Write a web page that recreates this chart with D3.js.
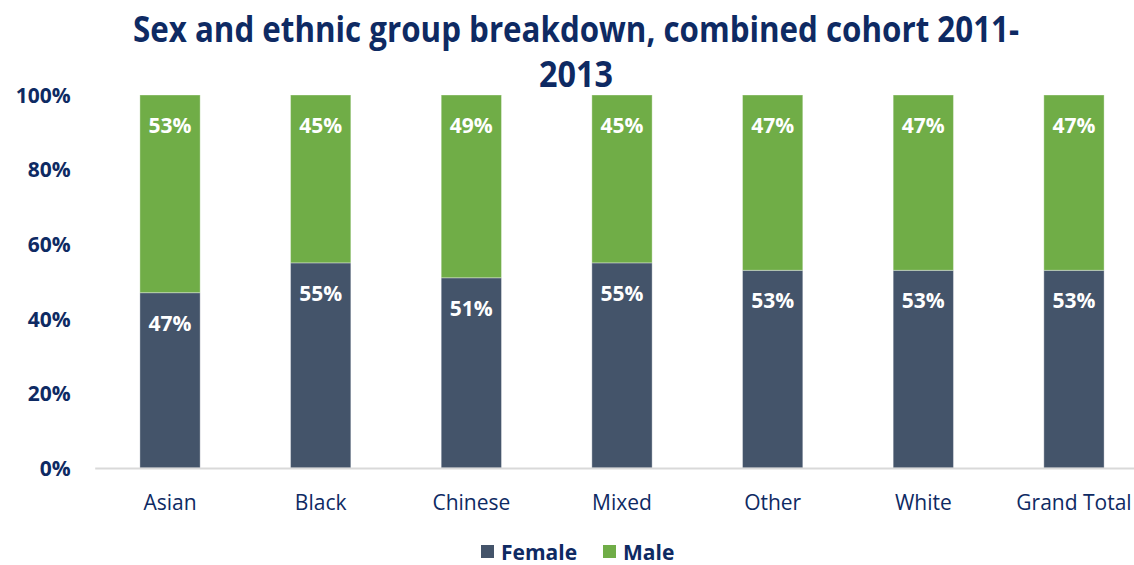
<!DOCTYPE html>
<html>
<head>
<meta charset="utf-8">
<script src="https://cdn.jsdelivr.net/npm/d3@7"></script>
<style>
  html, body { margin: 0; padding: 0; background: #fff; }
  svg { display: block; }
  text { font-family: "Open Sans", "DejaVu Sans", sans-serif; }
</style>
</head>
<body>
<svg id="chart" width="1134" height="565"></svg>
<script>
// Share of each sex within every ethnic group (percent)
const categories = ["Asian", "Black", "Chinese", "Mixed", "Other", "White", "Grand Total"];
const female = [47, 55, 51, 55, 53, 53, 53];
const male = [53, 45, 49, 45, 47, 47, 47];
const seriesNames = ["Female", "Male"];
const yTicks = [0, 20, 40, 60, 80, 100];
const titleLines = ["Sex and ethnic group breakdown, combined cohort 2011-", "2013"];

const colors = { Female: "#44546a", Male: "#70ad47" };
const navy = "#0e2a63";

const svg = d3.select("#chart");
const plot = { left: 94.7, right: 1149.3, top: 95, bottom: 468 };

// Stack the two series
const rows = categories.map((c, i) => ({ category: c, Female: female[i], Male: male[i] }));
const stacked = d3.stack().keys(seriesNames)(rows);

const x = d3.scaleBand().domain(categories).range([plot.left, plot.right]).paddingInner(0.6).paddingOuter(0.3);
const y = d3.scaleLinear().domain([0, 100]).range([plot.bottom, plot.top]);

// Title (two lines, condensed bold)
const title = svg.append("g").attr("fill", navy).attr("font-weight", 700).attr("font-size", 35);
title.append("text").attr("x", 576).attr("y", 42).attr("text-anchor", "middle")
  .attr("textLength", 886).attr("lengthAdjust", "spacingAndGlyphs").text(titleLines[0]);
title.append("text").attr("x", 576).attr("y", 87).attr("text-anchor", "middle")
  .attr("textLength", 74).attr("lengthAdjust", "spacingAndGlyphs").text(titleLines[1]);

// Bars
const layers = svg.append("g").selectAll("g").data(stacked).join("g")
  .attr("fill", d => colors[d.key]);
layers.selectAll("rect").data(d => d).join("rect")
  .attr("x", d => x(d.data.category))
  .attr("width", x.bandwidth())
  .attr("y", d => y(d[1]))
  .attr("height", d => y(d[0]) - y(d[1]))
  .attr("stroke", "#ffffff").attr("stroke-opacity", 0.35).attr("stroke-width", 1);

// Value labels near top of each segment
const labels = svg.append("g").attr("fill", "#ffffff").attr("font-weight", 700).attr("font-size", 21)
  .attr("text-anchor", "middle");
stacked.forEach(layer => {
  labels.selectAll(null).data(layer).join("text")
    .attr("x", d => x(d.data.category) + x.bandwidth() / 2)
    .attr("y", d => y(d[1]) + 38)
    .text(d => (d[1] - d[0]) + "%");
});

// X axis baseline and category labels
const xAxis = d3.axisBottom(x).tickSize(0).tickPadding(27);
const gx = svg.append("g").attr("transform", `translate(0,${plot.bottom})`).call(xAxis);
gx.select(".domain").attr("stroke", "#d9d9d9").attr("stroke-width", 2);
gx.selectAll(".tick text").attr("font-size", 21).attr("fill", navy)
  .attr("font-family", "'Open Sans', sans-serif");

// Y axis tick labels
const yAxis = d3.axisLeft(y).tickValues(yTicks).tickFormat(d => d + "%").tickSize(0).tickPadding(24);
const gy = svg.append("g").attr("transform", `translate(${plot.left},0)`).call(yAxis);
gy.select(".domain").remove();
gy.selectAll(".tick text").attr("font-size", 21).attr("font-weight", 700).attr("fill", navy)
  .attr("font-family", "'Open Sans', sans-serif").attr("dy", "0.35em");

// Legend
const legendItems = [{ name: "Female", x: 481 }, { name: "Male", x: 603 }];
const legend = svg.append("g");
legendItems.forEach(it => {
  legend.append("rect").attr("x", it.x).attr("y", 545).attr("width", 13).attr("height", 13)
    .attr("fill", colors[it.name]);
  legend.append("text").attr("x", it.x + 20).attr("y", 560).attr("font-size", 21)
    .attr("font-weight", 700).attr("fill", navy).text(it.name);
});
</script>
</body>
</html>
